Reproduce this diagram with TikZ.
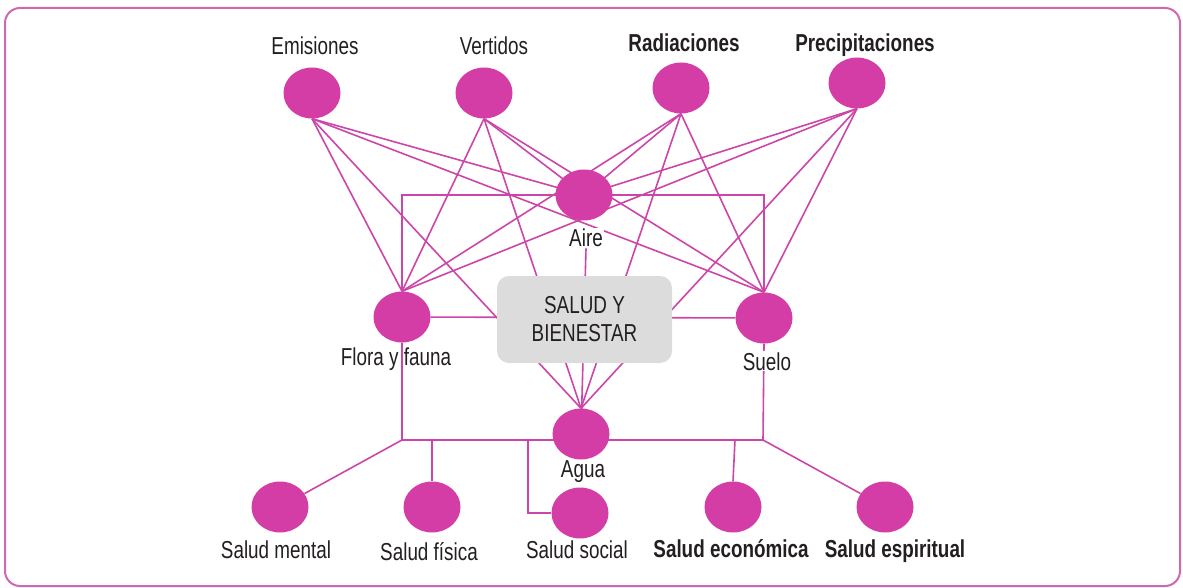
\documentclass[tikz,border=0pt]{standalone}
\usepackage{fontspec}
\setmainfont{Liberation Sans}[FakeStretch=0.77]
\usetikzlibrary{shapes.geometric}
\pgfdeclarelayer{bg}
\pgfsetlayers{bg,main}
\definecolor{dot}{HTML}{D43DA6}
\definecolor{wire}{HTML}{CC45A8}
\definecolor{rim}{HTML}{CF68B1}
\definecolor{ink}{HTML}{231F20}
\definecolor{boxgray}{HTML}{DCDCDC}
\tikzset{
  dotnode/.style={ellipse, fill=dot, draw=none, minimum width=57pt, minimum height=51pt, inner sep=0pt},
  lbl/.style={anchor=base, text=ink, font=\fontsize{24.5}{28}\selectfont, inner sep=1pt},
  blbl/.style={lbl, font=\fontsize{24.5}{28}\selectfont\bfseries},
  wline/.style={draw=wire, line width=1.6pt},
  hub/.style={rectangle, rounded corners=12pt, fill=boxgray, minimum width=175pt, minimum height=87pt,
    align=center, text=ink, font=\fontsize{24.5}{28}\selectfont},
}
\begin{document}
\begin{tikzpicture}[x=1pt, y=-1pt]
\useasboundingbox (0,0) rectangle (1183,588);
\draw[draw=rim, line width=2pt, rounded corners=15pt] (5,8) rectangle (1180,586);

% sources
\node[dotnode] (em) at (312,93) {};
\node[dotnode] (ve) at (484,93) {};
\node[dotnode] (ra) at (681,88) {};
\node[dotnode] (pr) at (857,83) {};
\node[lbl]  (emL) at (315,55) {Emisiones};
\node[lbl]  (veL) at (494,55) {Vertidos};
\node[blbl] (raL) at (684,52) {Radiaciones};
\node[blbl] (prL) at (865,52) {Precipitaciones};

% media
\node[dotnode] (aire)  at (584,195) {};
\node[dotnode] (flora) at (402,317) {};
\node[dotnode] (suelo) at (764,318) {};
\node[dotnode] (agua)  at (581,434) {};
\node[lbl, fill=white] (aireL) at (586,247) {Aire};
\node[lbl] (floraL) at (396,365) {Flora y fauna};
\node[lbl, fill=white] (sueloL) at (767,370) {Suelo};
\node[lbl] (aguaL) at (583,477) {Agua};

% centre
\node[hub] (hub) at (584.5,319.5) {SALUD Y\\BIENESTAR};

% outcomes
\node[dotnode] (sm)  at (280,507) {};
\node[dotnode] (sf)  at (432,507) {};
\node[dotnode] (ss)  at (580,513) {};
\node[dotnode] (sec) at (733,507) {};
\node[dotnode] (ses) at (885,507) {};
\node[lbl]  (smL)  at (276,558) {Salud mental};
\node[lbl]  (sfL)  at (429,560) {Salud física};
\node[lbl]  (ssL)  at (577,558) {Salud social};
\node[blbl] (secL) at (731,557) {Salud económica};
\node[blbl] (sesL) at (895,557) {Salud espiritual};

% bus points
\coordinate (bl) at (402,440);
\coordinate (br) at (763,440);
\coordinate (tsf) at (432,440);
\coordinate (tss) at (528,440);
\coordinate (tsec) at (735,440);

\begin{pgfonlayer}{bg}
  \foreach \s in {em,ve,ra,pr}{
    \draw[wline] (\s.south) -- (flora.north);
    \draw[wline] (\s.south) -- (suelo.north);
    \draw[wline] (\s.south) -- (agua.north);
    \draw[wline] (\s.south) -- (aire.center);
  }
  \draw[wline] (aireL.south) -- (agua.center);
  \draw[wline] (flora.north) |- (aire.center) -| (suelo.north);
  \draw[wline] (flora) -- (suelo);
  \draw[wline] (flora.south) -- (bl) -- (br) -- (suelo.south);
  \draw[wline] (bl) -- (sm);
  \draw[wline] (tsf) -- (sf.north);
  \draw[wline] (tss) |- (ss.west);
  \draw[wline] (tsec) -- (sec.north);
  \draw[wline] (br) -- (ses);
\end{pgfonlayer}
\end{tikzpicture}
\end{document}
